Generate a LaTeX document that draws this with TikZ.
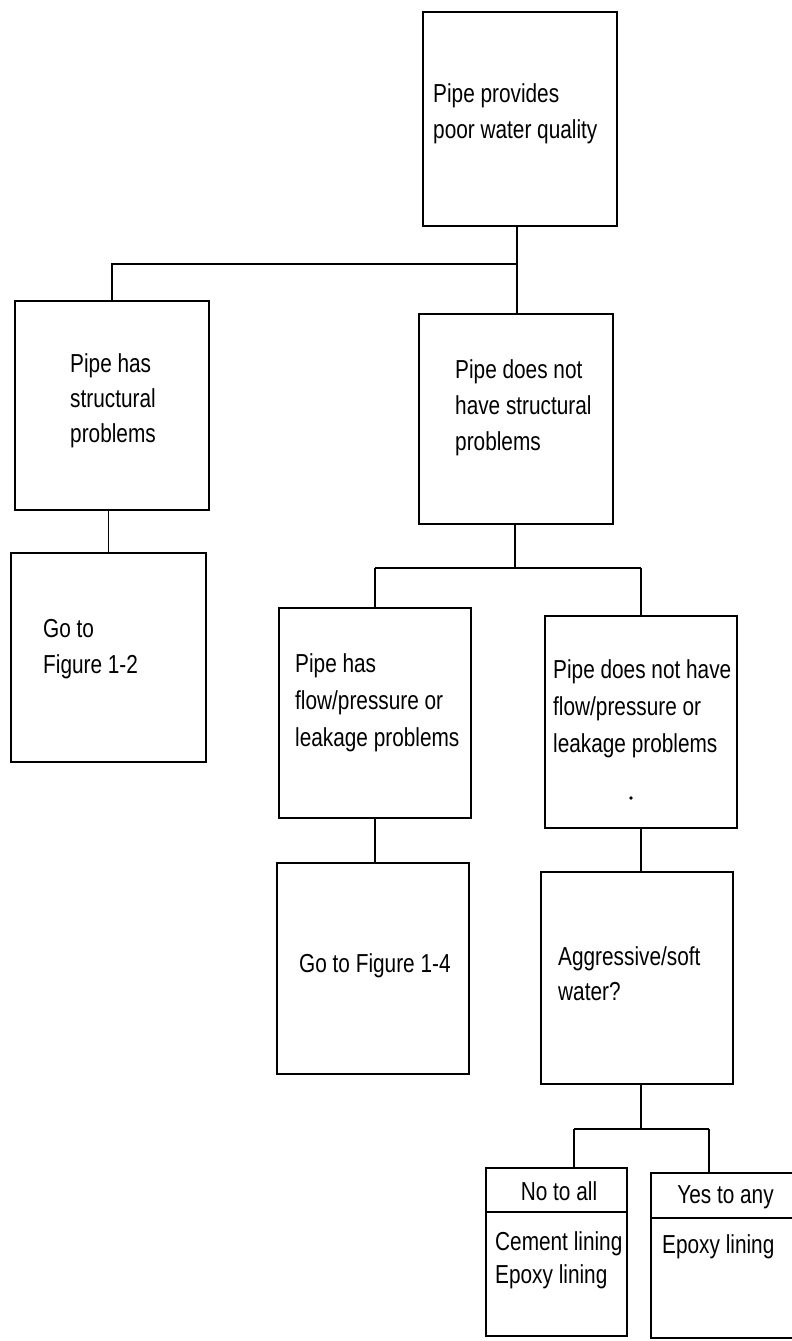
\documentclass[tikz,border=0pt]{standalone}
\usepackage{fontspec}
\setmainfont{Liberation Sans}[FakeStretch=0.8]
\newcommand{\mylines}[1]{\begin{tabular}[t]{@{}l@{}}#1\end{tabular}}
\begin{document}
\begin{tikzpicture}[x=1pt,y=-1pt,
  box/.style={draw=black, line width=2.2pt, rectangle, inner sep=0pt, fill=none},
  conn/.style={draw=black, line width=1.6pt},
  txt/.style={inner sep=0pt, anchor=base west, font=\fontsize{26}{36}\selectfont},
  txtc/.style={inner sep=0pt, anchor=base, font=\fontsize{26}{36}\selectfont}]
\useasboundingbox[fill=white] (0,0) rectangle (792,1341);

% boxes
\node[box, minimum width=194, minimum height=214] (A) at (520,119) {};
\node[box, minimum width=194, minimum height=209] (B) at (112,405.5) {};
\node[box, minimum width=194, minimum height=210] (C) at (516,419) {};
\node[box, minimum width=195, minimum height=209] (D) at (108.5,657.5) {};
\node[box, minimum width=192, minimum height=210] (E) at (375,713) {};
\node[box, minimum width=192, minimum height=212] (F) at (641,722) {};
\node[box, minimum width=192, minimum height=211] (G) at (373,968.5) {};
\node[box, minimum width=192, minimum height=212] (H) at (637,978) {};
\node[box, minimum width=141, minimum height=168] (I) at (556.5,1252) {};
\node[box, minimum width=149, minimum height=165] (J) at (725.5,1255.5) {};

% dividers in the bottom boxes
\coordinate (di) at (0,1212);
\coordinate (dj) at (0,1218);
\draw[line width=2.2pt] (I.west |- di) -- (I.east |- di);
\draw[line width=2.2pt] (J.west |- dj) -- (J.east |- dj);

% texts
\node[txt] (tA) at (433,102) {\mylines{Pipe provides\\poor water quality}};
\node[txt, font=\fontsize{26}{35}\selectfont] (tB) at (70,372) {\mylines{Pipe has\\structural\\problems}};
\node[txt] (tC) at (455,378) {\mylines{Pipe does not\\have structural\\problems}};
\node[txt] (tD) at (43,637) {\mylines{Go to\\Figure 1-2}};
\node[txt, font=\fontsize{26}{37}\selectfont] (tE) at (295,672) {\mylines{Pipe has\\flow/pressure or\\leakage problems}};
\node[txt, font=\fontsize{26}{37}\selectfont] (tF) at (553,678) {\mylines{Pipe does not have\\flow/pressure or\\leakage problems}};
\node[txt] (tG) at (299,972) {Go to Figure 1-4};
\node[txt, font=\fontsize{26}{35}\selectfont] (tH) at (558,965) {\mylines{Aggressive/soft\\water?}};
\node[txtc] (tI1) at (559,1200) {No to all};
\node[txt, font=\fontsize{26}{33}\selectfont] (tI2) at (495,1250) {\mylines{Cement lining\\Epoxy lining}};
\node[txtc] (tJ1) at (725.5,1203) {Yes to any};
\node[txt] (tJ2) at (662,1253) {Epoxy lining};

% stray dot in box F
\fill (631,798) circle (1.8);

% connectors
\coordinate (j1) at (517,264);
\draw[conn] (j1 |- A.south) -- (j1 |- C.north);
\draw[conn] (j1) -- (j1 -| B.north) -- (B.north);
\draw[conn] (B.south -| D.north) -- (D.north);

\coordinate (j2) at (515,568);
\draw[conn] (j2 |- C.south) -- (j2);
\draw[conn] (E.north |- j2) -- (F.north |- j2);
\draw[conn] (E.north |- j2) -- (E.north);
\draw[conn] (F.north |- j2) -- (F.north);

\draw[conn] (E.south) -- (E.south |- G.north);
\draw[conn] (F.south) -- (F.south |- H.north);

\coordinate (j3) at (641,1129);
\coordinate (k1) at (574,1129);
\coordinate (k2) at (709,1129);
\draw[conn] (j3 |- H.south) -- (j3);
\draw[conn] (k1) -- (k2);
\draw[conn] (k1) -- (k1 |- I.north);
\draw[conn] (k2) -- (k2 |- J.north);
\end{tikzpicture}
\end{document}
